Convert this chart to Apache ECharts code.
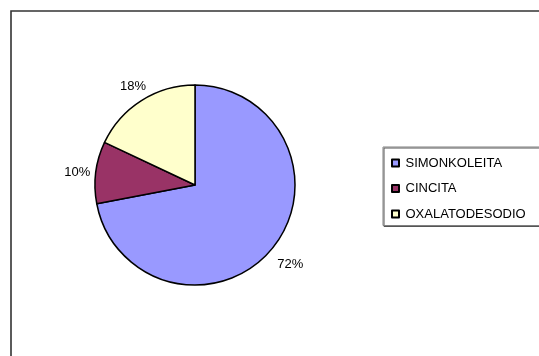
<!DOCTYPE html>
<html>
<head>
<meta charset="utf-8">
<script src="https://cdn.jsdelivr.net/npm/echarts@6/dist/echarts.min.js"></script>
<style>
  html, body { margin: 0; padding: 0; background: #fff; }
  #chart { width: 539px; height: 356px; }
</style>
</head>
<body>
<div id="chart"></div>
<script>
// Mineral composition shares (percent)
const categories = ['SIMONKOLEITA', 'CINCITA', 'OXALATODESODIO'];
const shares = [72, 10, 18];
const sliceColors = ['#9999FF', '#993366', '#FFFFCC'];

const FONT = '"Liberation Sans", Arial, sans-serif';
const PIE_CENTER = [195, 185];
const PIE_RADIUS = 100;

const total = shares.reduce((a, b) => a + b, 0);

// Place each percentage label just outside the rim, along the slice's middle angle
function placeLabel(params) {
  const i = params.dataIndex;
  let before = 0;
  for (let k = 0; k < i; k++) before += shares[k];
  const mid = (before + shares[i] / 2) / total * Math.PI * 2;
  const dx = Math.sin(mid);
  const dy = -Math.cos(mid);
  const w = params.labelRect.width;
  const h = params.labelRect.height;
  const dist = PIE_RADIUS + 7 + Math.abs(dx) * w / 2 + Math.abs(dy) * h / 2;
  return {
    x: PIE_CENTER[0] + dx * dist + 2,
    y: PIE_CENTER[1] + dy * dist + 2.5,
    align: 'center',
    verticalAlign: 'middle'
  };
}

const chart = echarts.init(document.getElementById('chart'), null, { renderer: 'canvas' });

chart.setOption({
  animation: false,
  backgroundColor: '#ffffff',
  textStyle: { fontFamily: FONT },
  graphic: [{
    type: 'rect',
    shape: { x: 11, y: 11, width: 600, height: 400 },
    style: { fill: 'none', stroke: '#333333', lineWidth: 1.6 },
    silent: true
  }],
  legend: {
    orient: 'vertical',
    left: 383,
    top: 147,
    data: categories,
    icon: 'rect',
    itemWidth: 7,
    itemHeight: 7,
    itemGap: 10.5,
    padding: [8.5, 40, 4, 8],
    backgroundColor: '#ffffff',
    borderColor: '#808080',
    borderWidth: 1,
    shadowColor: '#555555',
    shadowBlur: 0,
    shadowOffsetX: 1,
    shadowOffsetY: 1,
    textStyle: {
      fontFamily: FONT,
      fontSize: 13,
      color: '#000000',
      lineHeight: 15,
      padding: [0, 0, 0, 1.5]
    }
  },
  series: [{
    type: 'pie',
    center: PIE_CENTER,
    radius: PIE_RADIUS,
    startAngle: 90,
    clockwise: true,
    avoidLabelOverlap: false,
    data: categories.map((name, i) => ({
      name: name,
      value: shares[i],
      itemStyle: { color: sliceColors[i] }
    })),
    itemStyle: { borderColor: '#000000', borderWidth: 1.5 },
    label: {
      show: true,
      position: 'outside',
      formatter: '{c}%',
      fontFamily: FONT,
      fontSize: 13,
      color: '#000000'
    },
    labelLine: { show: false },
    labelLayout: placeLabel,
    emphasis: { disabled: true }
  }]
});
</script>
</body>
</html>
